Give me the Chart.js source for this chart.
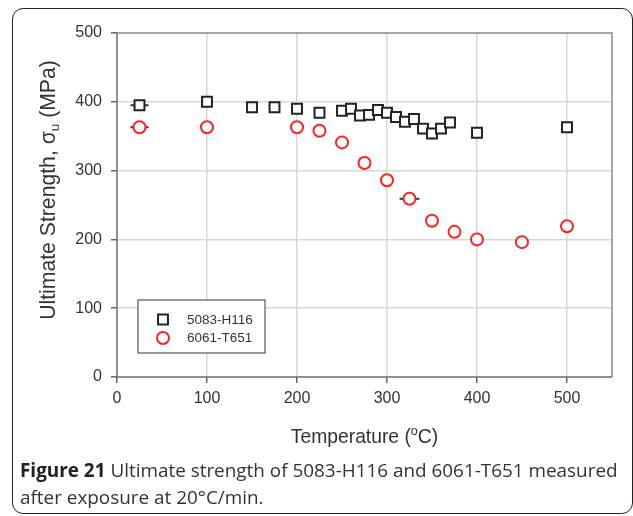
<!DOCTYPE html>
<html>
<head>
<meta charset="utf-8">
<script src="https://cdn.jsdelivr.net/npm/chart.js@4/dist/chart.umd.min.js"></script>
<style>
html,body{margin:0;padding:0;background:#fff;}
#wrap{position:relative;width:633px;height:516px;overflow:hidden;background:#fff;}
#frame{position:absolute;left:12px;top:8px;width:621px;height:506px;border:1.5px solid #222;border-radius:11px;box-sizing:border-box;}
#cv{position:absolute;left:0;top:0;}
#cap{position:absolute;left:20px;top:457px;width:612px;font-family:"Open Sans",sans-serif;font-size:18.9px;line-height:26.5px;color:#333;white-space:nowrap;}
#cap b{font-weight:700;color:#222;}
</style>
</head>
<body>
<div id="wrap">
  <div id="frame"></div>
  <canvas id="cv" width="633" height="516"></canvas>
  <div id="cap"><b>Figure 21</b> Ultimate strength of 5083-H116 and 6061-T651 measured<br>after exposure at 20°C/min.</div>
</div>
<script>
// ---- data ----
const seriesNames = ["5083-H116", "6061-T651"];
const temp5083 = [25, 100, 150, 175, 200, 225, 250, 260, 270, 280, 290, 300, 310, 320, 330, 340, 350, 360, 370, 400, 500];
const uts5083  = [395, 400, 392, 392, 390, 384, 387, 390, 380, 381, 388, 384, 378, 371, 375, 361, 354, 361, 370, 355, 363];
const xErr5083 = [10, 0, 0, 0, 0, 0, 0, 0, 0, 0, 0, 0, 0, 0, 0, 0, 0, 0, 0, 0, 0];
const temp6061 = [25, 100, 200, 225, 250, 275, 300, 325, 350, 375, 400, 450, 500];
const uts6061  = [363, 363, 363, 358, 341, 311, 286, 259, 227, 211, 200, 196, 219];
const xErr6061 = [10, 0, 0, 0, 0, 0, 0, 11, 0, 0, 0, 0, 0];
const xTicks = [0, 100, 200, 300, 400, 500];
const yTicks = [0, 100, 200, 300, 400, 500];

const toPts = (xs, ys) => xs.map((v, i) => ({x: v, y: ys[i]}));

const FONT = "'Liberation Sans', Arial, sans-serif";
const TXT = '#333';

const decor = {
  id: 'decor',
  beforeDatasetsDraw(chart) {
    const {ctx, chartArea: a, scales: {x, y}} = chart;
    ctx.save();
    ctx.lineWidth = 1.5;
    ctx.strokeStyle = '#8a8a8a';
    ctx.beginPath();
    ctx.moveTo(a.left, a.top); ctx.lineTo(a.right, a.top); ctx.lineTo(a.right, a.bottom);
    ctx.stroke();
    ctx.strokeStyle = '#6e6e6e';
    ctx.beginPath();
    ctx.moveTo(a.left, a.top); ctx.lineTo(a.left, a.bottom); ctx.lineTo(a.right, a.bottom);
    ctx.stroke();
    ctx.strokeStyle = '#333';
    ctx.lineWidth = 2;
    const bars = (xs, ys, es) => xs.forEach((t, i) => {
      if (!es[i]) return;
      const py = y.getPixelForValue(ys[i]);
      ctx.beginPath();
      ctx.moveTo(x.getPixelForValue(t - es[i]), py);
      ctx.lineTo(x.getPixelForValue(t + es[i]), py);
      ctx.stroke();
    });
    bars(temp5083, uts5083, xErr5083);
    bars(temp6061, uts6061, xErr6061);
    ctx.restore();
  },
  afterDraw(chart) {
    const {ctx, chartArea: a} = chart;
    ctx.save();
    // legend
    const lx = a.left + 21, ly = a.top + 267, lw = 127, lh = 53;
    ctx.fillStyle = '#fff';
    ctx.fillRect(lx, ly, lw, lh);
    ctx.strokeStyle = '#555';
    ctx.lineWidth = 1.2;
    ctx.strokeRect(lx, ly, lw, lh);
    ctx.font = '13.5px ' + FONT;
    ctx.textBaseline = 'middle';
    ctx.textAlign = 'left';
    chart.data.datasets.forEach((ds, i) => {
      const cy = ly + 19.5 + i * 18.5;
      const cx = lx + 25;
      ctx.lineWidth = ds.borderWidth;
      ctx.strokeStyle = ds.borderColor;
      ctx.fillStyle = '#fff';
      Chart.helpers.drawPoint(ctx, {pointStyle: ds.pointStyle, radius: ds.pointRadius, borderWidth: ds.borderWidth}, cx, cy);
      ctx.fillStyle = TXT;
      ctx.fillText(ds.label, lx + 49, cy + 0.5);
    });
    const drawParts = (parts) => {
      let w = 0;
      parts.forEach(p => { ctx.font = p[1]; w += ctx.measureText(p[0]).width; });
      let cx = -w / 2;
      parts.forEach(p => { ctx.font = p[1]; ctx.fillText(p[0], cx, p[2]); cx += ctx.measureText(p[0]).width; });
    };
    ctx.fillStyle = TXT;
    ctx.textAlign = 'left';
    ctx.textBaseline = 'alphabetic';
    // x title with superscript
    ctx.save();
    ctx.translate((a.left + a.right) / 2, a.bottom + 66);
    drawParts([["Temperature (", '19.3px ' + FONT, 0], ["o", '12.5px ' + FONT, -8], ["C)", '19.3px ' + FONT, 0]]);
    ctx.restore();
    // y title with subscript
    ctx.save();
    ctx.translate(55, a.top + 157);
    ctx.rotate(-Math.PI / 2);
    drawParts([["Ultimate Strength, σ", '21.2px ' + FONT, 0], ["u", '13.5px ' + FONT, 4], [" (MPa)", '21.2px ' + FONT, 0]]);
    ctx.restore();
    ctx.restore();
  }
};

new Chart(document.getElementById('cv'), {
  type: 'scatter',
  data: {
    datasets: [
      {label: seriesNames[0], data: toPts(temp5083, uts5083), pointStyle: 'rect', pointRadius: 7, pointHoverRadius: 7,
       borderWidth: 2, borderColor: '#222', backgroundColor: '#fff'},
      {label: seriesNames[1], data: toPts(temp6061, uts6061), pointStyle: 'circle', pointRadius: 6, pointHoverRadius: 6,
       borderWidth: 2, borderColor: '#ff2020', backgroundColor: '#fff'}
    ]
  },
  options: {
    responsive: false,
    animation: false,
    events: [],
    layout: {padding: {left: 0, top: 33, right: 21, bottom: 109}},
    plugins: {legend: {display: false}, tooltip: {enabled: false}},
    scales: {
      x: {
        type: 'linear', min: 0, max: 550,
        afterFit: s => { s.height = 30; },
        afterBuildTicks: s => { s.ticks = xTicks.map(v => ({value: v})); },
        ticks: {font: {size: 16, family: FONT}, color: TXT, padding: 6, includeBounds: false},
        grid: {color: c => (c.tick && (c.tick.value === 0)) ? 'rgba(0,0,0,0)' : '#d8d8d8', lineWidth: 1.5,
               tickLength: 6, tickColor: '#666', tickWidth: 1.5},
        border: {display: false}
      },
      y: {
        type: 'linear', min: 0, max: 500,
        afterFit: s => { s.width = 117; },
        afterBuildTicks: s => { s.ticks = yTicks.map(v => ({value: v})); },
        ticks: {font: {size: 16, family: FONT}, color: TXT, padding: 9},
        grid: {color: c => (c.tick && (c.tick.value === 0 || c.tick.value === 500)) ? 'rgba(0,0,0,0)' : '#d8d8d8', lineWidth: 1.5,
               tickLength: 6, tickColor: '#666', tickWidth: 1.5},
        border: {display: false}
      }
    }
  },
  plugins: [decor]
});
</script>
</body>
</html>
